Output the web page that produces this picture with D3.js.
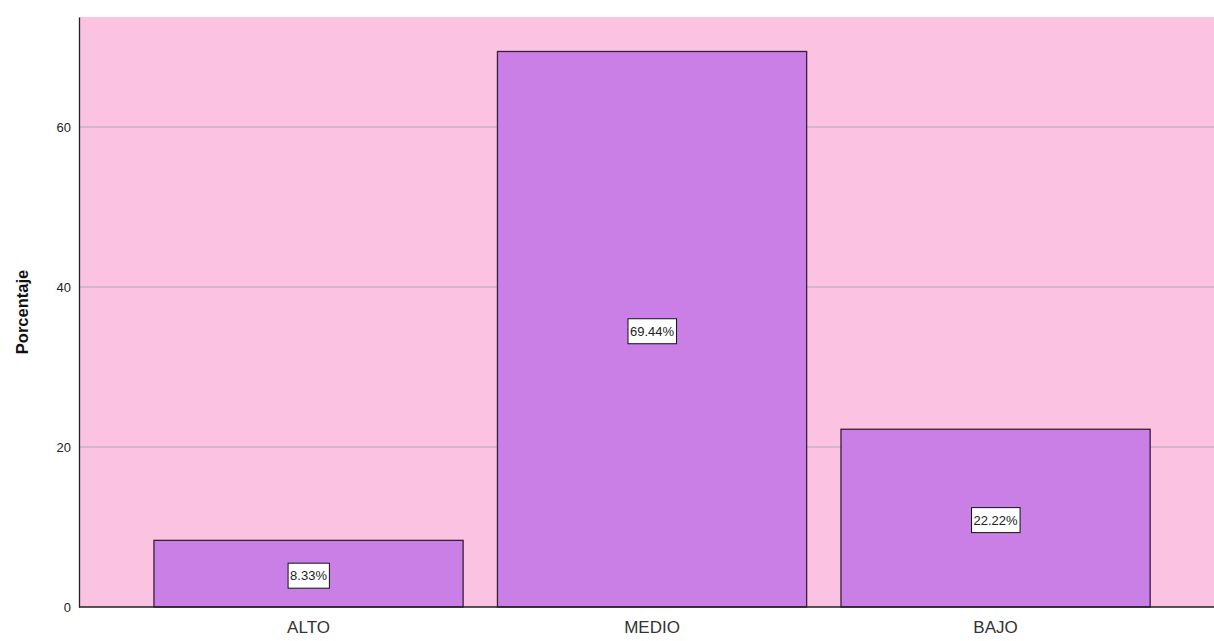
<!DOCTYPE html>
<html>
<head>
<meta charset="utf-8">
<script src="https://cdn.jsdelivr.net/npm/d3@7"></script>
<style>
  html, body { margin: 0; padding: 0; background: #ffffff; }
  svg { display: block; font-family: Arial, "Liberation Sans", sans-serif; }
</style>
</head>
<body>
<svg id="chart" width="1214" height="641"></svg>
<script>
const categories = ["ALTO", "MEDIO", "BAJO"];
const values = [8.33, 69.44, 22.22];
const labels = ["8.33%", "69.44%", "22.22%"];
const yTicks = [0, 20, 40, 60];
const yTitle = "Porcentaje";

(function () {
const svg = d3.select("#chart");
const mLeft = 79, mRight = 1214, mTop = 17, mBottom = 607;

const x = d3.scaleBand()
  .domain(categories)
  .range([mLeft, mRight])
  .paddingInner(0.1)
  .paddingOuter(0.202)
  .align(0.54);

const y = d3.scaleLinear().domain([0, 73.75]).range([mBottom, mTop]);

// background
svg.append("rect")
  .attr("x", mLeft).attr("y", mTop)
  .attr("width", mRight - mLeft).attr("height", mBottom - mTop)
  .attr("fill", "#fbc2e2");

// gridlines
svg.append("g").selectAll("line")
  .data(yTicks.filter(d => d > 0))
  .join("line")
  .attr("x1", mLeft).attr("x2", mRight)
  .attr("y1", d => y(d)).attr("y2", d => y(d))
  .attr("stroke", "#a8aab8").attr("stroke-width", 1);

// bars
svg.append("g").selectAll("rect")
  .data(categories)
  .join("rect")
  .attr("x", d => x(d))
  .attr("y", (d, i) => y(values[i]))
  .attr("width", x.bandwidth())
  .attr("height", (d, i) => y(0) - y(values[i]))
  .attr("fill", "#c97fe6")
  .attr("stroke", "#3a1e3a")
  .attr("stroke-width", 1.3);

// y axis
const yAxis = d3.axisLeft(y).tickValues(yTicks).tickSize(0).tickPadding(8).tickFormat(d3.format("d"));
const gy = svg.append("g").attr("transform", `translate(${mLeft},0)`).call(yAxis);
gy.select(".domain").attr("stroke", "#222").attr("stroke-width", 1.3);
gy.selectAll("text").attr("font-size", 13).attr("fill", "#222").attr("font-family", "Arial, 'Liberation Sans', sans-serif");

// x axis
const xAxis = d3.axisBottom(x).tickSize(0).tickPadding(14);
const gx = svg.append("g").attr("transform", `translate(0,${mBottom})`).call(xAxis);
gx.select(".domain").attr("stroke", "#222").attr("stroke-width", 1.3)
  .attr("d", `M${mLeft},0H${mRight}`);
gx.selectAll("text").attr("font-size", 17).attr("fill", "#333").attr("font-family", "Arial, 'Liberation Sans', sans-serif");

// y title
svg.append("text")
  .attr("transform", `translate(28,${(mTop + mBottom) / 2}) rotate(-90)`)
  .attr("text-anchor", "middle")
  .attr("font-size", 16.5).attr("font-weight", "bold").attr("fill", "#111")
  .text(yTitle);

// value labels
const lg = svg.append("g").selectAll("g")
  .data(categories)
  .join("g")
  .attr("transform", (d, i) => `translate(${x(d) + x.bandwidth() / 2},${(y(values[i]) + y(0)) / 2 + 2})`);

lg.each(function(d, i) {
  const g = d3.select(this);
  const t = g.append("text")
    .attr("text-anchor", "middle")
    .attr("dy", "0.35em")
    .attr("font-size", 13).attr("fill", "#222")
    .text(labels[i]);
  const bb = t.node().getBBox();
  g.insert("rect", "text")
    .attr("x", bb.x - 2).attr("y", -12.5)
    .attr("width", bb.width + 4).attr("height", 25)
    .attr("fill", "#ffffff").attr("stroke", "#111").attr("stroke-width", 1);
});
})();
</script>
</body>
</html>
